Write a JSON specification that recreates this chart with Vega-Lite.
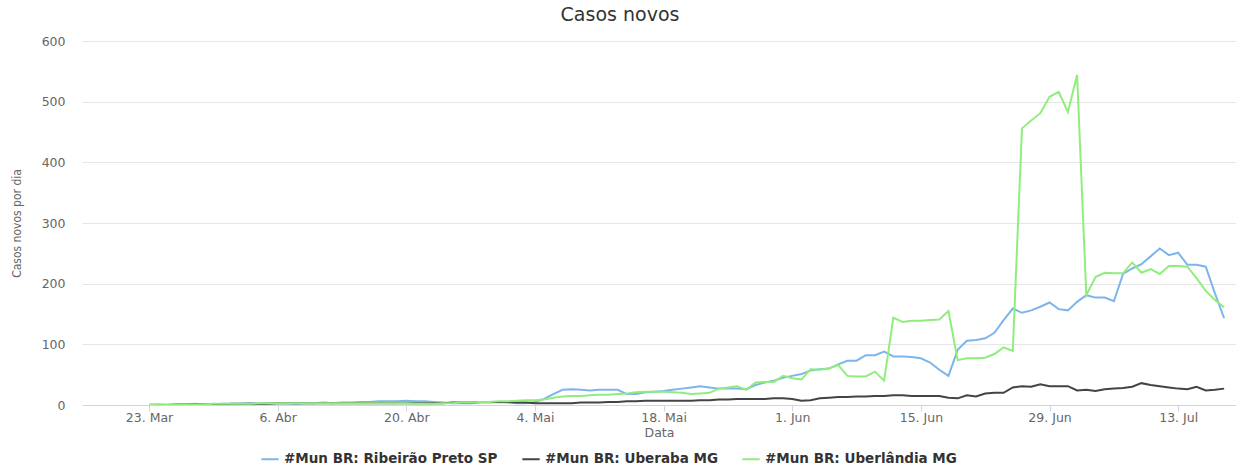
{
  "$schema": "https://vega.github.io/schema/vega-lite/v6.json",
  "autosize": {"type": "none"},
  "width": 1154,
  "height": 364,
  "padding": {"left": 82, "top": 41, "right": 0, "bottom": 68},
  "background": "#ffffff",
  "title": {
    "text": "Casos novos",
    "font": "DejaVu Sans",
    "fontSize": 19,
    "fontWeight": "normal",
    "color": "#333333",
    "anchor": "middle",
    "frame": "group",
    "dx": -39,
    "offset": 10
  },
  "config": {
    "view": {"stroke": null},
    "axis": {"labelFont": "DejaVu Sans", "titleFont": "DejaVu Sans"}
  },
  "data": {
    "values": [
      {"date": "2020-03-23", "rp": 0, "ub": 0, "ul": 1},
      {"date": "2020-03-24", "rp": 1, "ub": 0, "ul": 1},
      {"date": "2020-03-25", "rp": 0, "ub": 0, "ul": 1},
      {"date": "2020-03-26", "rp": 1, "ub": 1, "ul": 1},
      {"date": "2020-03-27", "rp": 1, "ub": 1, "ul": 1},
      {"date": "2020-03-28", "rp": 2, "ub": 1, "ul": 1},
      {"date": "2020-03-29", "rp": 1, "ub": 1, "ul": 1},
      {"date": "2020-03-30", "rp": 1, "ub": 1, "ul": 2},
      {"date": "2020-03-31", "rp": 2, "ub": 1, "ul": 2},
      {"date": "2020-04-01", "rp": 2, "ub": 2, "ul": 2},
      {"date": "2020-04-02", "rp": 2, "ub": 2, "ul": 2},
      {"date": "2020-04-03", "rp": 3, "ub": 2, "ul": 2},
      {"date": "2020-04-04", "rp": 2, "ub": 2, "ul": 3},
      {"date": "2020-04-05", "rp": 3, "ub": 2, "ul": 3},
      {"date": "2020-04-06", "rp": 3, "ub": 3, "ul": 3},
      {"date": "2020-04-07", "rp": 3, "ub": 3, "ul": 3},
      {"date": "2020-04-08", "rp": 2, "ub": 3, "ul": 3},
      {"date": "2020-04-09", "rp": 3, "ub": 3, "ul": 3},
      {"date": "2020-04-10", "rp": 3, "ub": 3, "ul": 3},
      {"date": "2020-04-11", "rp": 4, "ub": 3, "ul": 3},
      {"date": "2020-04-12", "rp": 3, "ub": 3, "ul": 3},
      {"date": "2020-04-13", "rp": 4, "ub": 3, "ul": 3},
      {"date": "2020-04-14", "rp": 4, "ub": 3, "ul": 3},
      {"date": "2020-04-15", "rp": 5, "ub": 3, "ul": 3},
      {"date": "2020-04-16", "rp": 5, "ub": 3, "ul": 3},
      {"date": "2020-04-17", "rp": 6, "ub": 3, "ul": 3},
      {"date": "2020-04-18", "rp": 6, "ub": 3, "ul": 3},
      {"date": "2020-04-19", "rp": 6, "ub": 3, "ul": 3},
      {"date": "2020-04-20", "rp": 7, "ub": 3, "ul": 3},
      {"date": "2020-04-21", "rp": 6, "ub": 3, "ul": 2},
      {"date": "2020-04-22", "rp": 6, "ub": 3, "ul": 2},
      {"date": "2020-04-23", "rp": 5, "ub": 3, "ul": 2},
      {"date": "2020-04-24", "rp": 4, "ub": 3, "ul": 3},
      {"date": "2020-04-25", "rp": 3, "ub": 4, "ul": 3},
      {"date": "2020-04-26", "rp": 3, "ub": 4, "ul": 4},
      {"date": "2020-04-27", "rp": 3, "ub": 4, "ul": 4},
      {"date": "2020-04-28", "rp": 4, "ub": 5, "ul": 5},
      {"date": "2020-04-29", "rp": 4, "ub": 5, "ul": 5},
      {"date": "2020-04-30", "rp": 5, "ub": 5, "ul": 6},
      {"date": "2020-05-01", "rp": 4, "ub": 5, "ul": 6},
      {"date": "2020-05-02", "rp": 3, "ub": 4, "ul": 7},
      {"date": "2020-05-03", "rp": 3, "ub": 4, "ul": 8},
      {"date": "2020-05-04", "rp": 5, "ub": 3, "ul": 8},
      {"date": "2020-05-05", "rp": 10, "ub": 3, "ul": 9},
      {"date": "2020-05-06", "rp": 18, "ub": 3, "ul": 12},
      {"date": "2020-05-07", "rp": 25, "ub": 3, "ul": 14},
      {"date": "2020-05-08", "rp": 26, "ub": 3, "ul": 15},
      {"date": "2020-05-09", "rp": 25, "ub": 4, "ul": 15},
      {"date": "2020-05-10", "rp": 24, "ub": 4, "ul": 16},
      {"date": "2020-05-11", "rp": 25, "ub": 4, "ul": 17},
      {"date": "2020-05-12", "rp": 25, "ub": 5, "ul": 17},
      {"date": "2020-05-13", "rp": 25, "ub": 5, "ul": 18},
      {"date": "2020-05-14", "rp": 18, "ub": 6, "ul": 19},
      {"date": "2020-05-15", "rp": 18, "ub": 6, "ul": 21},
      {"date": "2020-05-16", "rp": 21, "ub": 7, "ul": 22},
      {"date": "2020-05-17", "rp": 22, "ub": 7, "ul": 22},
      {"date": "2020-05-18", "rp": 23, "ub": 7, "ul": 22},
      {"date": "2020-05-19", "rp": 25, "ub": 7, "ul": 21},
      {"date": "2020-05-20", "rp": 27, "ub": 7, "ul": 20},
      {"date": "2020-05-21", "rp": 29, "ub": 7, "ul": 18},
      {"date": "2020-05-22", "rp": 31, "ub": 8, "ul": 19},
      {"date": "2020-05-23", "rp": 29, "ub": 8, "ul": 20},
      {"date": "2020-05-24", "rp": 27, "ub": 9, "ul": 27},
      {"date": "2020-05-25", "rp": 27, "ub": 9, "ul": 29},
      {"date": "2020-05-26", "rp": 27, "ub": 10, "ul": 31},
      {"date": "2020-05-27", "rp": 26, "ub": 10, "ul": 25},
      {"date": "2020-05-28", "rp": 33, "ub": 10, "ul": 37},
      {"date": "2020-05-29", "rp": 37, "ub": 10, "ul": 38},
      {"date": "2020-05-30", "rp": 40, "ub": 11, "ul": 38},
      {"date": "2020-05-31", "rp": 45, "ub": 11, "ul": 48},
      {"date": "2020-06-01", "rp": 48, "ub": 10, "ul": 44},
      {"date": "2020-06-02", "rp": 51, "ub": 7, "ul": 42},
      {"date": "2020-06-03", "rp": 57, "ub": 8, "ul": 59},
      {"date": "2020-06-04", "rp": 59, "ub": 11, "ul": 58},
      {"date": "2020-06-05", "rp": 60, "ub": 12, "ul": 60},
      {"date": "2020-06-06", "rp": 67, "ub": 13, "ul": 66},
      {"date": "2020-06-07", "rp": 73, "ub": 13, "ul": 48},
      {"date": "2020-06-08", "rp": 73, "ub": 14, "ul": 47},
      {"date": "2020-06-09", "rp": 82, "ub": 14, "ul": 47},
      {"date": "2020-06-10", "rp": 82, "ub": 15, "ul": 55},
      {"date": "2020-06-11", "rp": 88, "ub": 15, "ul": 40},
      {"date": "2020-06-12", "rp": 80, "ub": 16, "ul": 144},
      {"date": "2020-06-13", "rp": 80, "ub": 16, "ul": 137},
      {"date": "2020-06-14", "rp": 79, "ub": 15, "ul": 139},
      {"date": "2020-06-15", "rp": 77, "ub": 15, "ul": 139},
      {"date": "2020-06-16", "rp": 70, "ub": 15, "ul": 140},
      {"date": "2020-06-17", "rp": 58, "ub": 15, "ul": 141},
      {"date": "2020-06-18", "rp": 48, "ub": 12, "ul": 155},
      {"date": "2020-06-19", "rp": 91, "ub": 11, "ul": 74},
      {"date": "2020-06-20", "rp": 106, "ub": 16, "ul": 77},
      {"date": "2020-06-21", "rp": 107, "ub": 14, "ul": 77},
      {"date": "2020-06-22", "rp": 110, "ub": 19, "ul": 78},
      {"date": "2020-06-23", "rp": 119, "ub": 20, "ul": 84},
      {"date": "2020-06-24", "rp": 140, "ub": 20, "ul": 95},
      {"date": "2020-06-25", "rp": 159, "ub": 29, "ul": 89},
      {"date": "2020-06-26", "rp": 152, "ub": 31, "ul": 456},
      {"date": "2020-06-27", "rp": 156, "ub": 30, "ul": 469},
      {"date": "2020-06-28", "rp": 162, "ub": 34, "ul": 481},
      {"date": "2020-06-29", "rp": 169, "ub": 31, "ul": 508},
      {"date": "2020-06-30", "rp": 158, "ub": 31, "ul": 516},
      {"date": "2020-07-01", "rp": 156, "ub": 31, "ul": 483},
      {"date": "2020-07-02", "rp": 170, "ub": 24, "ul": 544},
      {"date": "2020-07-03", "rp": 181, "ub": 25, "ul": 181},
      {"date": "2020-07-04", "rp": 177, "ub": 23, "ul": 211},
      {"date": "2020-07-05", "rp": 177, "ub": 26, "ul": 218},
      {"date": "2020-07-06", "rp": 171, "ub": 27, "ul": 217},
      {"date": "2020-07-07", "rp": 216, "ub": 28, "ul": 217},
      {"date": "2020-07-08", "rp": 225, "ub": 30, "ul": 235},
      {"date": "2020-07-09", "rp": 232, "ub": 36, "ul": 218},
      {"date": "2020-07-10", "rp": 245, "ub": 33, "ul": 224},
      {"date": "2020-07-11", "rp": 258, "ub": 31, "ul": 216},
      {"date": "2020-07-12", "rp": 247, "ub": 29, "ul": 229},
      {"date": "2020-07-13", "rp": 251, "ub": 27, "ul": 229},
      {"date": "2020-07-14", "rp": 231, "ub": 26, "ul": 228},
      {"date": "2020-07-15", "rp": 231, "ub": 30, "ul": 209},
      {"date": "2020-07-16", "rp": 228, "ub": 24, "ul": 188},
      {"date": "2020-07-17", "rp": 184, "ub": 25, "ul": 173},
      {"date": "2020-07-18", "rp": 143, "ub": 27, "ul": 161}
    ]
  },
  "transform": [{"fold": ["rp", "ub", "ul"], "as": ["serie", "casos"]}],
  "mark": {"type": "line", "strokeWidth": 2, "interpolate": "linear", "clip": true},
  "encoding": {
    "x": {
      "field": "date",
      "type": "temporal",
      "scale": {
        "type": "utc",
        "domain": [
          {"year": 2020, "month": 3, "date": 15, "hours": 17, "utc": true},
          {"year": 2020, "month": 7, "date": 19, "hours": 7, "utc": true}
        ]
      },
      "axis": {
        "title": "Data",
        "titleFontSize": 12.5,
        "titleFontWeight": "normal",
        "titleColor": "#666666",
        "titlePadding": 3,
        "values": [
          {"year": 2020, "month": 3, "date": 23, "utc": true},
          {"year": 2020, "month": 4, "date": 6, "utc": true},
          {"year": 2020, "month": 4, "date": 20, "utc": true},
          {"year": 2020, "month": 5, "date": 4, "utc": true},
          {"year": 2020, "month": 5, "date": 18, "utc": true},
          {"year": 2020, "month": 6, "date": 1, "utc": true},
          {"year": 2020, "month": 6, "date": 15, "utc": true},
          {"year": 2020, "month": 6, "date": 29, "utc": true},
          {"year": 2020, "month": 7, "date": 13, "utc": true}
        ],
        "labelExpr": "utcdate(datum.value) + '. ' + ['Jan','Fev','Mar','Abr','Mai','Jun','Jul','Ago','Set','Out','Nov','Dez'][utcmonth(datum.value)]",
        "labelFontSize": 12.5,
        "labelColor": "#666666",
        "labelPadding": 0,
        "grid": false,
        "domainColor": "#ccd6eb",
        "tickColor": "#ccd6eb",
        "tickSize": 6
      }
    },
    "y": {
      "field": "casos",
      "type": "quantitative",
      "scale": {"domain": [0, 600], "nice": false},
      "axis": {
        "title": "Casos novos por dia",
        "titleFont": "DejaVu Sans Condensed",
        "titleFontSize": 12,
        "titleFontWeight": "normal",
        "titleColor": "#666666",
        "titlePadding": 18,
        "values": [0, 100, 200, 300, 400, 500, 600],
        "labelFontSize": 12.5,
        "labelColor": "#666666",
        "labelPadding": 17,
        "domain": false,
        "ticks": false,
        "grid": true,
        "gridColor": "#e6e6e6"
      }
    },
    "color": {
      "field": "serie",
      "type": "nominal",
      "scale": {"domain": ["rp", "ub", "ul"], "range": ["#7cb5ec", "#434348", "#90ed7d"]},
      "legend": {
        "title": null,
        "orient": "none",
        "legendX": 178,
        "legendY": 408,
        "direction": "horizontal",
        "symbolType": "stroke",
        "symbolStrokeWidth": 2,
        "symbolSize": 300,
        "labelFont": "DejaVu Sans",
        "labelFontSize": 13.5,
        "labelFontWeight": "bold",
        "labelColor": "#333333",
        "labelLimit": 400,
        "columnPadding": 20,
        "labelExpr": "datum.label == 'rp' ? '#Mun BR: Ribeirão Preto SP' : datum.label == 'ub' ? '#Mun BR: Uberaba MG' : '#Mun BR: Uberlândia MG'"
      }
    }
  }
}
